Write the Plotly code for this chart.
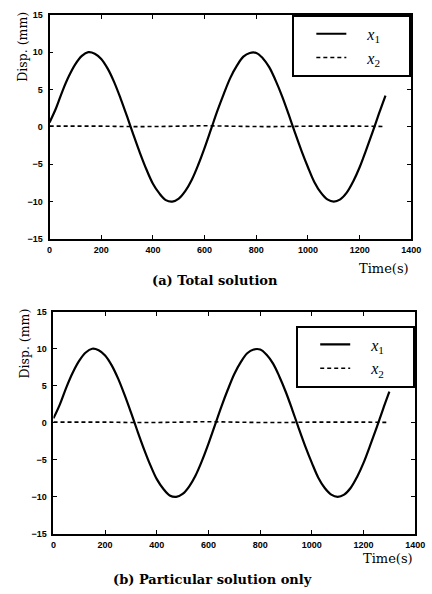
import plotly.graph_objects as go

# ---- data ----
time_s = [0, 25, 50, 75, 100, 125, 150, 175, 200, 225, 250, 275, 300, 325, 350, 375, 400,
          425, 450, 475, 500, 525, 550, 575, 600, 625, 650, 675, 700, 725, 750, 775, 800,
          825, 850, 875, 900, 925, 950, 975, 1000, 1025, 1050, 1075, 1100, 1125, 1150,
          1175, 1200, 1225, 1250, 1275, 1300]
x1_total = [0.6, 2.5, 4.8, 6.8, 8.4, 9.5, 10.0, 9.8, 9.1, 7.8, 6.0, 3.8, 1.4, -1.1, -3.5,
            -5.7, -7.6, -8.9, -9.8, -10.0, -9.6, -8.6, -7.1, -5.1, -2.8, -0.3, 2.2, 4.5,
            6.6, 8.2, 9.4, 9.9, 9.9, 9.2, 8.0, 6.2, 4.1, 1.7, -0.8, -3.2, -5.4, -7.4, -8.8,
            -9.7, -10.0, -9.7, -8.8, -7.3, -5.4, -3.1, -0.7, 1.8, 4.2]
x1_particular = list(x1_total)

time_x2 = [0, 100, 200, 300, 400, 500, 600, 700, 800, 900, 1000, 1100, 1200, 1300]
x2_total = [0.1, 0.1, 0.1, 0.05, 0.05, 0.1, 0.15, 0.1, 0.05, 0.05, 0.1, 0.1, 0.1, 0.05]
x2_particular = [0.1, 0.1, 0.1, 0.05, 0.05, 0.1, 0.15, 0.1, 0.05, 0.05, 0.1, 0.1, 0.1, 0.05]

x_ticks = [0, 200, 400, 600, 800, 1000, 1200, 1400]
y_ticks = [-15, -10, -5, 0, 5, 10, 15]

W, H = 432, 594
SERIF = "Liberation Serif, DejaVu Serif, serif"
WIDE_SERIF = "DejaVu Serif, Liberation Serif, serif"
SANS = "Liberation Sans, Arial, sans-serif"

fig = go.Figure()

lead = "&nbsp;" * 4
pad = "&nbsp;" * 6
lab1 = lead + "<i>x</i><sub>1</sub>" + pad
lab2 = lead + "<i>x</i><sub>2</sub>" + pad

fig.add_trace(go.Scatter(x=time_s, y=x1_total, mode="lines", name=lab1,
                         line=dict(color="black", width=2.2, shape="spline"),
                         xaxis="x", yaxis="y", legend="legend"))
fig.add_trace(go.Scatter(x=time_x2, y=x2_total, mode="lines", name=lab2,
                         line=dict(color="black", width=1.6, dash="4px,3px", shape="spline"),
                         xaxis="x", yaxis="y", legend="legend"))
fig.add_trace(go.Scatter(x=time_s, y=x1_particular, mode="lines", name=lab1,
                         line=dict(color="black", width=2.2, shape="spline"),
                         xaxis="x2", yaxis="y2", legend="legend2"))
fig.add_trace(go.Scatter(x=time_x2, y=x2_particular, mode="lines", name=lab2,
                         line=dict(color="black", width=1.6, dash="4px,3px", shape="spline"),
                         xaxis="x2", yaxis="y2", legend="legend2"))

def px_x(p):
    return p / W

def px_y(p):
    return 1 - p / H

axis_common = dict(
    showgrid=False, zeroline=False, showline=True, linecolor="black", linewidth=1.8,
    mirror="ticks", ticks="inside", ticklen=4, tickwidth=1, tickcolor="black",
    tickfont=dict(family=SANS, size=9, color="black", weight="bold"),
)

legend_common = dict(
    xanchor="right", yanchor="top",
    bordercolor="black", borderwidth=2, bgcolor="white",
    font=dict(family=SERIF, size=16, color="black"),
    indentation=17, tracegroupgap=0,
)

fig.update_layout(
    width=W, height=H, autosize=False,
    margin=dict(l=0, r=0, t=0, b=0),
    paper_bgcolor="white", plot_bgcolor="white",
    xaxis=dict(domain=[px_x(48), px_x(421)], range=[0, 1400], tickvals=x_ticks,
               anchor="y", ticklabelstandoff=1, **axis_common),
    yaxis=dict(domain=[px_y(238), px_y(10)], range=[-15, 15], tickvals=y_ticks,
               anchor="x", ticklabelstandoff=3, **axis_common),
    xaxis2=dict(domain=[px_x(52), px_x(425)], range=[0, 1400], tickvals=x_ticks,
                anchor="y2", ticklabelstandoff=1, **axis_common),
    yaxis2=dict(domain=[px_y(538), px_y(312)], range=[-15, 15], tickvals=y_ticks,
                anchor="x2", ticklabelstandoff=3, **axis_common),
    legend=dict(x=px_x(421), y=px_y(10), **legend_common),
    legend2=dict(x=px_x(425), y=px_y(326), **legend_common),
    showlegend=True,
)

ann = [
    dict(text="Disp. (mm)", x=px_x(20), y=px_y(42), textangle=-90, size=12.5, bold=False),
    dict(text="Disp. (mm)", x=px_x(22), y=px_y(344), textangle=-90, size=12.5, bold=False),
    dict(text="Time(s)", x=px_x(393), y=px_y(268), size=13, bold=False),
    dict(text="Time(s)", x=px_x(397), y=px_y(563), size=13, bold=False),
    dict(text="(a) Total solution", x=px_x(219), y=px_y(280), size=13, bold=True),
    dict(text="(b) Particular solution only", x=px_x(216), y=px_y(584), size=13, bold=True),
]
for a in ann:
    size = a.pop("size")
    bold = a.pop("bold")
    if bold:
        a["text"] = "<b>" + a["text"] + "</b>"
    fig.add_annotation(xref="paper", yref="paper", showarrow=False,
                       xanchor="center", yanchor="middle",
                       font=dict(family=WIDE_SERIF, size=size, color="black"), **a)

css_fix = (
    "document.documentElement.style.margin='0';"
    "document.documentElement.style.padding='0';"
    "document.documentElement.style.overflow='hidden';"
    "document.body.style.margin='0';"
    "document.body.style.padding='0';"
    "document.body.style.overflow='hidden';"
)
fig.write_html("out.html", config={"displayModeBar": False, "responsive": False},
               post_script=css_fix)
